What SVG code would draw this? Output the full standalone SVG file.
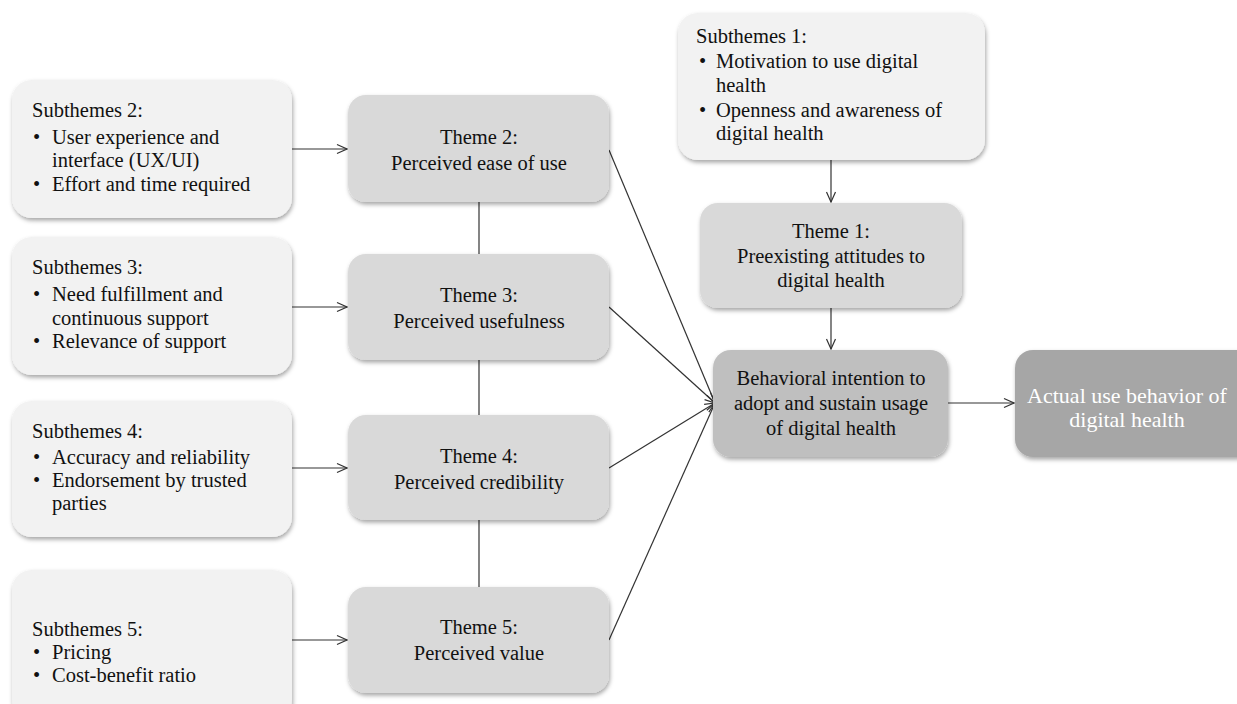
<svg xmlns="http://www.w3.org/2000/svg" width="1237" height="704" viewBox="0 0 1237 704" font-family="'Liberation Serif', 'Times New Roman', Times, serif">
  <style>
    text { font-family: 'Liberation Serif', 'Times New Roman', Times, serif; font-size: 20.5px; fill: #111; }
    .c { text-anchor: middle; }
    .sub { fill: #f2f2f2; filter: url(#shadow); }
    .theme { fill: #d9d9d9; filter: url(#shadow); }
    .intent { fill: #bfbfbf; filter: url(#shadow); }
    .actual { fill: #a6a6a6; filter: url(#shadow); }
    .light { fill: #ffffff; font-size: 22px; }
    .link { stroke: #333; stroke-width: 1.2; fill: none; }
    .arrow { stroke: #333; stroke-width: 1.2; fill: none; marker-end: url(#head); }
  </style>
  <defs>
    <filter id="shadow" x="-10%" y="-10%" width="125%" height="130%">
      <feDropShadow dx="1" dy="2.5" stdDeviation="2" flood-color="#000" flood-opacity="0.35"/>
    </filter>
    <marker id="head" viewBox="0 0 12 12" refX="11" refY="6" markerWidth="12" markerHeight="12" markerUnits="userSpaceOnUse" orient="auto">
      <path d="M1,1.5 L11,6 L1,10.5" fill="none" stroke="#333" stroke-width="1.2"/>
    </marker>
  </defs>

  <!-- connectors -->
  <g id="connectors">
    <line class="arrow" x1="292" y1="149" x2="347" y2="149"/>
    <line class="arrow" x1="292" y1="307" x2="347" y2="307"/>
    <line class="arrow" x1="292" y1="468" x2="347" y2="468"/>
    <line class="arrow" x1="292" y1="640" x2="347" y2="640"/>
    <line class="link" x1="479" y1="202" x2="479" y2="254"/>
    <line class="link" x1="479" y1="360" x2="479" y2="415"/>
    <line class="link" x1="479" y1="520" x2="479" y2="587"/>
    <line class="arrow" x1="609" y1="150" x2="715" y2="403"/>
    <line class="arrow" x1="609" y1="307" x2="715" y2="403"/>
    <line class="arrow" x1="609" y1="468" x2="715" y2="403"/>
    <line class="arrow" x1="609" y1="640" x2="715" y2="403"/>
    <line class="arrow" x1="831" y1="160" x2="831" y2="202"/>
    <line class="arrow" x1="831" y1="308" x2="831" y2="349"/>
    <line class="arrow" x1="948" y1="403" x2="1014" y2="403"/>
  </g>

  <!-- subtheme boxes -->
  <g id="subthemes1">
    <rect class="sub" x="678" y="13" width="307" height="147" rx="20"/>
    <text x="696" y="43">Subthemes 1:</text>
    <text x="699" y="68">•</text><text x="716" y="68">Motivation to use digital</text>
    <text x="716" y="92">health</text>
    <text x="699" y="117">•</text><text x="716" y="117">Openness and awareness of</text>
    <text x="716" y="140">digital health</text>
  </g>
  <g id="subthemes2">
    <rect class="sub" x="12" y="80" width="280" height="138" rx="20"/>
    <text x="32" y="117">Subthemes 2:</text>
    <text x="33" y="144">•</text><text x="52" y="144">User experience and</text>
    <text x="52" y="167">interface (UX/UI)</text>
    <text x="33" y="191">•</text><text x="52" y="191">Effort and time required</text>
  </g>
  <g id="subthemes3">
    <rect class="sub" x="12" y="237" width="280" height="138" rx="20"/>
    <text x="32" y="274">Subthemes 3:</text>
    <text x="33" y="301">•</text><text x="52" y="301">Need fulfillment and</text>
    <text x="52" y="325">continuous support</text>
    <text x="33" y="348">•</text><text x="52" y="348">Relevance of support</text>
  </g>
  <g id="subthemes4">
    <rect class="sub" x="12" y="401" width="280" height="136" rx="20"/>
    <text x="32" y="438">Subthemes 4:</text>
    <text x="33" y="464">•</text><text x="52" y="464">Accuracy and reliability</text>
    <text x="33" y="487">•</text><text x="52" y="487">Endorsement by trusted</text>
    <text x="52" y="510">parties</text>
  </g>
  <g id="subthemes5">
    <rect class="sub" x="12" y="570" width="280" height="150" rx="20"/>
    <text x="32" y="636">Subthemes 5:</text>
    <text x="33" y="659">•</text><text x="52" y="659">Pricing</text>
    <text x="33" y="682">•</text><text x="52" y="682">Cost-benefit ratio</text>
  </g>

  <!-- theme boxes -->
  <g id="theme2">
    <rect class="theme" x="348" y="95" width="261" height="107" rx="18"/>
    <text class="c" x="479" y="144">Theme 2:</text>
    <text class="c" x="479" y="170">Perceived ease of use</text>
  </g>
  <g id="theme3">
    <rect class="theme" x="348" y="254" width="261" height="106" rx="18"/>
    <text class="c" x="479" y="302">Theme 3:</text>
    <text class="c" x="479" y="328">Perceived usefulness</text>
  </g>
  <g id="theme4">
    <rect class="theme" x="348" y="415" width="261" height="105" rx="18"/>
    <text class="c" x="479" y="463">Theme 4:</text>
    <text class="c" x="479" y="489">Perceived credibility</text>
  </g>
  <g id="theme5">
    <rect class="theme" x="348" y="587" width="261" height="106" rx="18"/>
    <text class="c" x="479" y="634">Theme 5:</text>
    <text class="c" x="479" y="660">Perceived value</text>
  </g>
  <g id="theme1">
    <rect class="theme" x="700" y="203" width="262" height="105" rx="18"/>
    <text class="c" x="831" y="238">Theme 1:</text>
    <text class="c" x="831" y="263">Preexisting attitudes to</text>
    <text class="c" x="831" y="287">digital health</text>
  </g>

  <!-- outcome boxes -->
  <g id="intention">
    <rect class="intent" x="713" y="350" width="235" height="107" rx="18"/>
    <text class="c" x="831" y="385">Behavioral intention to</text>
    <text class="c" x="831" y="410">adopt and sustain usage</text>
    <text class="c" x="831" y="435">of digital health</text>
  </g>
  <g id="actual-use">
    <rect class="actual" x="1015" y="350" width="240" height="107" rx="18"/>
    <text class="c light" x="1127" y="403">Actual use behavior of</text>
    <text class="c light" x="1127" y="427">digital health</text>
  </g>
</svg>
